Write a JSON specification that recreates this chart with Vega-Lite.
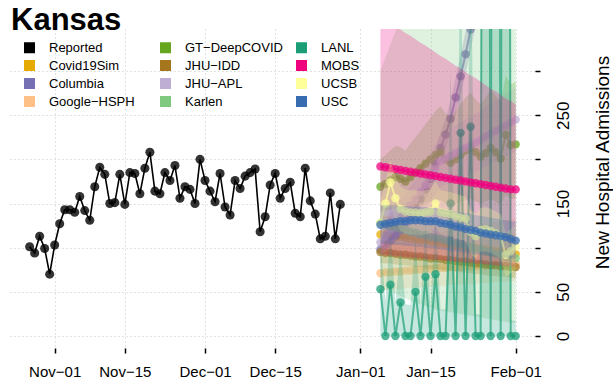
{
"$schema": "https://vega.github.io/schema/vega-lite/v6.json",
"autosize": "none",
"width": 525,
"height": 319,
"padding": {"left": 10, "top": 29, "right": 78, "bottom": 37},
"background": "white",
"config": {"view": {"stroke": null}, "font": "Liberation Sans"},
"title": {"text": "Kansas", "orient": "bottom", "anchor": "start", "frame": "group", "offset": -349, "baseline": "alphabetic", "dx": 1, "fontSize": 31, "fontWeight": "bold", "font": "Liberation Sans", "color": "black"},
"datasets": {
"rep": [
{"d":"2020-10-27","m":"Reported","v":101},{"d":"2020-10-28","m":"Reported","v":94},{"d":"2020-10-29","m":"Reported","v":113},{"d":"2020-10-30","m":"Reported","v":99},{"d":"2020-10-31","m":"Reported","v":70},
{"d":"2020-11-01","m":"Reported","v":103},{"d":"2020-11-02","m":"Reported","v":127},{"d":"2020-11-03","m":"Reported","v":143},{"d":"2020-11-04","m":"Reported","v":143},{"d":"2020-11-05","m":"Reported","v":140},
{"d":"2020-11-06","m":"Reported","v":158},{"d":"2020-11-07","m":"Reported","v":142},{"d":"2020-11-08","m":"Reported","v":131},{"d":"2020-11-09","m":"Reported","v":169},{"d":"2020-11-10","m":"Reported","v":191},
{"d":"2020-11-11","m":"Reported","v":183},{"d":"2020-11-12","m":"Reported","v":150},{"d":"2020-11-13","m":"Reported","v":151},{"d":"2020-11-14","m":"Reported","v":183},{"d":"2020-11-15","m":"Reported","v":149},
{"d":"2020-11-16","m":"Reported","v":185},{"d":"2020-11-17","m":"Reported","v":184},{"d":"2020-11-18","m":"Reported","v":161},{"d":"2020-11-19","m":"Reported","v":190},{"d":"2020-11-20","m":"Reported","v":208},
{"d":"2020-11-21","m":"Reported","v":164},{"d":"2020-11-22","m":"Reported","v":161},{"d":"2020-11-23","m":"Reported","v":185},{"d":"2020-11-24","m":"Reported","v":176},{"d":"2020-11-25","m":"Reported","v":193},
{"d":"2020-11-26","m":"Reported","v":156},{"d":"2020-11-27","m":"Reported","v":169},{"d":"2020-11-28","m":"Reported","v":166},{"d":"2020-11-29","m":"Reported","v":150},{"d":"2020-11-30","m":"Reported","v":200},
{"d":"2020-12-01","m":"Reported","v":176},{"d":"2020-12-02","m":"Reported","v":164},{"d":"2020-12-03","m":"Reported","v":152},{"d":"2020-12-04","m":"Reported","v":184},{"d":"2020-12-05","m":"Reported","v":146},
{"d":"2020-12-06","m":"Reported","v":137},{"d":"2020-12-07","m":"Reported","v":176},{"d":"2020-12-08","m":"Reported","v":167},{"d":"2020-12-09","m":"Reported","v":181},{"d":"2020-12-10","m":"Reported","v":185},
{"d":"2020-12-11","m":"Reported","v":189},{"d":"2020-12-12","m":"Reported","v":118},{"d":"2020-12-13","m":"Reported","v":135},{"d":"2020-12-14","m":"Reported","v":171},{"d":"2020-12-15","m":"Reported","v":184},
{"d":"2020-12-16","m":"Reported","v":156},{"d":"2020-12-17","m":"Reported","v":167},{"d":"2020-12-18","m":"Reported","v":174},{"d":"2020-12-19","m":"Reported","v":139},{"d":"2020-12-20","m":"Reported","v":135},
{"d":"2020-12-21","m":"Reported","v":190},{"d":"2020-12-22","m":"Reported","v":153},{"d":"2020-12-23","m":"Reported","v":138},{"d":"2020-12-24","m":"Reported","v":110},{"d":"2020-12-25","m":"Reported","v":113},
{"d":"2020-12-26","m":"Reported","v":162},{"d":"2020-12-27","m":"Reported","v":110},{"d":"2020-12-28","m":"Reported","v":149}
],
"fc": [
{"d":"2021-01-05","m":"Covid19Sim","v":115,"lo":97,"hi":137},{"d":"2021-01-06","m":"Covid19Sim","v":114,"lo":96,"hi":136},{"d":"2021-01-07","m":"Covid19Sim","v":113,"lo":95,"hi":135},{"d":"2021-01-08","m":"Covid19Sim","v":112,"lo":94,"hi":134},
{"d":"2021-01-09","m":"Covid19Sim","v":112,"lo":94,"hi":134},{"d":"2021-01-10","m":"Covid19Sim","v":111,"lo":93,"hi":133},{"d":"2021-01-11","m":"Covid19Sim","v":110,"lo":92,"hi":132},{"d":"2021-01-12","m":"Covid19Sim","v":109,"lo":91,"hi":131},
{"d":"2021-01-13","m":"Covid19Sim","v":108,"lo":90,"hi":130},{"d":"2021-01-14","m":"Covid19Sim","v":108,"lo":90,"hi":130},{"d":"2021-01-15","m":"Covid19Sim","v":107,"lo":89,"hi":129},{"d":"2021-01-16","m":"Covid19Sim","v":106,"lo":88,"hi":128},
{"d":"2021-01-17","m":"Covid19Sim","v":105,"lo":87,"hi":127},{"d":"2021-01-18","m":"Covid19Sim","v":104,"lo":86,"hi":126},{"d":"2021-01-19","m":"Covid19Sim","v":104,"lo":86,"hi":126},{"d":"2021-01-20","m":"Covid19Sim","v":103,"lo":85,"hi":125},
{"d":"2021-01-21","m":"Covid19Sim","v":102,"lo":84,"hi":124},{"d":"2021-01-22","m":"Covid19Sim","v":101,"lo":83,"hi":123},{"d":"2021-01-23","m":"Covid19Sim","v":100,"lo":82,"hi":122},{"d":"2021-01-24","m":"Covid19Sim","v":100,"lo":82,"hi":122},
{"d":"2021-01-25","m":"Covid19Sim","v":99,"lo":81,"hi":121},{"d":"2021-01-26","m":"Covid19Sim","v":98,"lo":80,"hi":120},{"d":"2021-01-27","m":"Covid19Sim","v":97,"lo":79,"hi":119},{"d":"2021-01-28","m":"Covid19Sim","v":96,"lo":78,"hi":118},
{"d":"2021-01-29","m":"Covid19Sim","v":96,"lo":78,"hi":118},{"d":"2021-01-30","m":"Covid19Sim","v":95,"lo":77,"hi":117},{"d":"2021-01-31","m":"Covid19Sim","v":94,"lo":76,"hi":116},{"d":"2021-02-01","m":"Covid19Sim","v":93,"lo":75,"hi":115},

{"d":"2021-01-05","m":"Columbia","v":98,"lo":91,"hi":106},{"d":"2021-01-06","m":"Columbia","v":103,"lo":96,"hi":111},{"d":"2021-01-07","m":"Columbia","v":108,"lo":100,"hi":117},{"d":"2021-01-08","m":"Columbia","v":114,"lo":106,"hi":123},
{"d":"2021-01-09","m":"Columbia","v":120,"lo":112,"hi":130},{"d":"2021-01-10","m":"Columbia","v":128,"lo":119,"hi":138},{"d":"2021-01-11","m":"Columbia","v":136,"lo":126,"hi":147},{"d":"2021-01-12","m":"Columbia","v":145,"lo":135,"hi":157},
{"d":"2021-01-13","m":"Columbia","v":155,"lo":144,"hi":167},{"d":"2021-01-14","m":"Columbia","v":166,"lo":154,"hi":179},{"d":"2021-01-15","m":"Columbia","v":178,"lo":166,"hi":192},{"d":"2021-01-16","m":"Columbia","v":195,"lo":181,"hi":211},
{"d":"2021-01-17","m":"Columbia","v":213,"lo":198,"hi":230},{"d":"2021-01-18","m":"Columbia","v":228,"lo":212,"hi":246},{"d":"2021-01-19","m":"Columbia","v":246,"lo":229,"hi":266},{"d":"2021-01-20","m":"Columbia","v":270,"lo":251,"hi":292},
{"d":"2021-01-21","m":"Columbia","v":294,"lo":273,"hi":318},{"d":"2021-01-22","m":"Columbia","v":319,"lo":297,"hi":345},{"d":"2021-01-23","m":"Columbia","v":347,"lo":323,"hi":375},{"d":"2021-01-24","m":"Columbia","v":378,"lo":352,"hi":408},
{"d":"2021-01-25","m":"Columbia","v":412,"lo":383,"hi":445},{"d":"2021-01-26","m":"Columbia","v":450,"lo":419,"hi":486},{"d":"2021-01-27","m":"Columbia","v":490,"lo":456,"hi":529},{"d":"2021-01-28","m":"Columbia","v":535,"lo":498,"hi":578},
{"d":"2021-01-29","m":"Columbia","v":585,"lo":544,"hi":632},{"d":"2021-01-30","m":"Columbia","v":640,"lo":595,"hi":691},{"d":"2021-01-31","m":"Columbia","v":700,"lo":651,"hi":756},{"d":"2021-02-01","m":"Columbia","v":765,"lo":711,"hi":826},

{"d":"2021-01-05","m":"Google-HSPH","v":71,"lo":51,"hi":106},{"d":"2021-01-06","m":"Google-HSPH","v":72,"lo":52,"hi":107},{"d":"2021-01-07","m":"Google-HSPH","v":72,"lo":52,"hi":108},{"d":"2021-01-08","m":"Google-HSPH","v":73,"lo":53,"hi":109},
{"d":"2021-01-09","m":"Google-HSPH","v":73,"lo":53,"hi":110},{"d":"2021-01-10","m":"Google-HSPH","v":74,"lo":54,"hi":111},{"d":"2021-01-11","m":"Google-HSPH","v":74,"lo":54,"hi":112},{"d":"2021-01-12","m":"Google-HSPH","v":75,"lo":55,"hi":113},
{"d":"2021-01-13","m":"Google-HSPH","v":75,"lo":55,"hi":114},{"d":"2021-01-14","m":"Google-HSPH","v":76,"lo":56,"hi":115},{"d":"2021-01-15","m":"Google-HSPH","v":76,"lo":56,"hi":116},{"d":"2021-01-16","m":"Google-HSPH","v":77,"lo":57,"hi":117},
{"d":"2021-01-17","m":"Google-HSPH","v":77,"lo":57,"hi":118},{"d":"2021-01-18","m":"Google-HSPH","v":77,"lo":57,"hi":119},{"d":"2021-01-19","m":"Google-HSPH","v":78,"lo":58,"hi":120},{"d":"2021-01-20","m":"Google-HSPH","v":78,"lo":58,"hi":121},
{"d":"2021-01-21","m":"Google-HSPH","v":78,"lo":58,"hi":122},{"d":"2021-01-22","m":"Google-HSPH","v":79,"lo":59,"hi":123},{"d":"2021-01-23","m":"Google-HSPH","v":79,"lo":59,"hi":124},{"d":"2021-01-24","m":"Google-HSPH","v":79,"lo":59,"hi":125},
{"d":"2021-01-25","m":"Google-HSPH","v":80,"lo":60,"hi":126},{"d":"2021-01-26","m":"Google-HSPH","v":80,"lo":60,"hi":127},{"d":"2021-01-27","m":"Google-HSPH","v":80,"lo":60,"hi":128},{"d":"2021-01-28","m":"Google-HSPH","v":81,"lo":61,"hi":129},
{"d":"2021-01-29","m":"Google-HSPH","v":81,"lo":61,"hi":130},{"d":"2021-01-30","m":"Google-HSPH","v":81,"lo":61,"hi":131},{"d":"2021-01-31","m":"Google-HSPH","v":82,"lo":62,"hi":132},{"d":"2021-02-01","m":"Google-HSPH","v":82,"lo":62,"hi":133},

{"d":"2021-01-05","m":"GT-DeepCOVID","v":169,"lo":140,"hi":200},{"d":"2021-01-06","m":"GT-DeepCOVID","v":172,"lo":142,"hi":205},{"d":"2021-01-07","m":"GT-DeepCOVID","v":176,"lo":143,"hi":210},{"d":"2021-01-08","m":"GT-DeepCOVID","v":180,"lo":145,"hi":215},
{"d":"2021-01-09","m":"GT-DeepCOVID","v":178,"lo":144,"hi":214},{"d":"2021-01-10","m":"GT-DeepCOVID","v":175,"lo":142,"hi":210},{"d":"2021-01-11","m":"GT-DeepCOVID","v":180,"lo":144,"hi":218},{"d":"2021-01-12","m":"GT-DeepCOVID","v":185,"lo":146,"hi":225},
{"d":"2021-01-13","m":"GT-DeepCOVID","v":190,"lo":148,"hi":232},{"d":"2021-01-14","m":"GT-DeepCOVID","v":195,"lo":150,"hi":240},{"d":"2021-01-15","m":"GT-DeepCOVID","v":200,"lo":152,"hi":247},{"d":"2021-01-16","m":"GT-DeepCOVID","v":205,"lo":153,"hi":255},
{"d":"2021-01-17","m":"GT-DeepCOVID","v":208,"lo":154,"hi":260},{"d":"2021-01-18","m":"GT-DeepCOVID","v":200,"lo":150,"hi":252},{"d":"2021-01-19","m":"GT-DeepCOVID","v":196,"lo":148,"hi":248},{"d":"2021-01-20","m":"GT-DeepCOVID","v":200,"lo":150,"hi":255},
{"d":"2021-01-21","m":"GT-DeepCOVID","v":205,"lo":152,"hi":262},{"d":"2021-01-22","m":"GT-DeepCOVID","v":210,"lo":154,"hi":270},{"d":"2021-01-23","m":"GT-DeepCOVID","v":213,"lo":155,"hi":275},{"d":"2021-01-24","m":"GT-DeepCOVID","v":208,"lo":152,"hi":268},
{"d":"2021-01-25","m":"GT-DeepCOVID","v":203,"lo":150,"hi":262},{"d":"2021-01-26","m":"GT-DeepCOVID","v":207,"lo":152,"hi":270},{"d":"2021-01-27","m":"GT-DeepCOVID","v":213,"lo":155,"hi":278},{"d":"2021-01-28","m":"GT-DeepCOVID","v":208,"lo":152,"hi":272},
{"d":"2021-01-29","m":"GT-DeepCOVID","v":201,"lo":149,"hi":265},{"d":"2021-01-30","m":"GT-DeepCOVID","v":228,"lo":160,"hi":295},{"d":"2021-01-31","m":"GT-DeepCOVID","v":216,"lo":155,"hi":285},{"d":"2021-02-01","m":"GT-DeepCOVID","v":217,"lo":155,"hi":288},

{"d":"2021-01-05","m":"JHU-IDD","v":95,"lo":83,"hi":109},{"d":"2021-01-06","m":"JHU-IDD","v":94,"lo":82,"hi":108},{"d":"2021-01-07","m":"JHU-IDD","v":94,"lo":82,"hi":108},{"d":"2021-01-08","m":"JHU-IDD","v":93,"lo":81,"hi":107},
{"d":"2021-01-09","m":"JHU-IDD","v":92,"lo":80,"hi":106},{"d":"2021-01-10","m":"JHU-IDD","v":92,"lo":80,"hi":106},{"d":"2021-01-11","m":"JHU-IDD","v":91,"lo":79,"hi":105},{"d":"2021-01-12","m":"JHU-IDD","v":90,"lo":78,"hi":104},
{"d":"2021-01-13","m":"JHU-IDD","v":90,"lo":78,"hi":104},{"d":"2021-01-14","m":"JHU-IDD","v":89,"lo":77,"hi":103},{"d":"2021-01-15","m":"JHU-IDD","v":88,"lo":76,"hi":102},{"d":"2021-01-16","m":"JHU-IDD","v":88,"lo":76,"hi":102},
{"d":"2021-01-17","m":"JHU-IDD","v":87,"lo":75,"hi":101},{"d":"2021-01-18","m":"JHU-IDD","v":86,"lo":74,"hi":100},{"d":"2021-01-19","m":"JHU-IDD","v":86,"lo":74,"hi":100},{"d":"2021-01-20","m":"JHU-IDD","v":85,"lo":73,"hi":99},
{"d":"2021-01-21","m":"JHU-IDD","v":84,"lo":72,"hi":98},{"d":"2021-01-22","m":"JHU-IDD","v":84,"lo":72,"hi":98},{"d":"2021-01-23","m":"JHU-IDD","v":83,"lo":71,"hi":97},{"d":"2021-01-24","m":"JHU-IDD","v":82,"lo":70,"hi":96},
{"d":"2021-01-25","m":"JHU-IDD","v":82,"lo":70,"hi":96},{"d":"2021-01-26","m":"JHU-IDD","v":81,"lo":69,"hi":95},{"d":"2021-01-27","m":"JHU-IDD","v":80,"lo":68,"hi":94},{"d":"2021-01-28","m":"JHU-IDD","v":80,"lo":68,"hi":94},
{"d":"2021-01-29","m":"JHU-IDD","v":79,"lo":67,"hi":93},{"d":"2021-01-30","m":"JHU-IDD","v":79,"lo":67,"hi":93},{"d":"2021-01-31","m":"JHU-IDD","v":78,"lo":66,"hi":92},{"d":"2021-02-01","m":"JHU-IDD","v":78,"lo":66,"hi":92},

{"d":"2021-01-05","m":"JHU-APL","v":106,"lo":90,"hi":122},{"d":"2021-01-06","m":"JHU-APL","v":113,"lo":96,"hi":130},{"d":"2021-01-07","m":"JHU-APL","v":120,"lo":102,"hi":138},{"d":"2021-01-08","m":"JHU-APL","v":127,"lo":108,"hi":146},
{"d":"2021-01-09","m":"JHU-APL","v":134,"lo":114,"hi":154},{"d":"2021-01-10","m":"JHU-APL","v":141,"lo":120,"hi":162},{"d":"2021-01-11","m":"JHU-APL","v":148,"lo":126,"hi":170},{"d":"2021-01-12","m":"JHU-APL","v":155,"lo":132,"hi":178},
{"d":"2021-01-13","m":"JHU-APL","v":163,"lo":139,"hi":187},{"d":"2021-01-14","m":"JHU-APL","v":171,"lo":145,"hi":197},{"d":"2021-01-15","m":"JHU-APL","v":180,"lo":153,"hi":207},{"d":"2021-01-16","m":"JHU-APL","v":189,"lo":161,"hi":217},
{"d":"2021-01-17","m":"JHU-APL","v":198,"lo":168,"hi":228},{"d":"2021-01-18","m":"JHU-APL","v":201,"lo":171,"hi":231},{"d":"2021-01-19","m":"JHU-APL","v":204,"lo":173,"hi":235},{"d":"2021-01-20","m":"JHU-APL","v":207,"lo":176,"hi":238},
{"d":"2021-01-21","m":"JHU-APL","v":210,"lo":179,"hi":242},{"d":"2021-01-22","m":"JHU-APL","v":213,"lo":181,"hi":245},{"d":"2021-01-23","m":"JHU-APL","v":216,"lo":184,"hi":248},{"d":"2021-01-24","m":"JHU-APL","v":219,"lo":186,"hi":252},
{"d":"2021-01-25","m":"JHU-APL","v":222,"lo":189,"hi":255},{"d":"2021-01-26","m":"JHU-APL","v":226,"lo":192,"hi":260},{"d":"2021-01-27","m":"JHU-APL","v":229,"lo":195,"hi":263},{"d":"2021-01-28","m":"JHU-APL","v":232,"lo":197,"hi":267},
{"d":"2021-01-29","m":"JHU-APL","v":235,"lo":200,"hi":270},{"d":"2021-01-30","m":"JHU-APL","v":238,"lo":202,"hi":274},{"d":"2021-01-31","m":"JHU-APL","v":242,"lo":206,"hi":278},{"d":"2021-02-01","m":"JHU-APL","v":245,"lo":208,"hi":282},

{"d":"2021-01-05","m":"Karlen","v":128,"lo":55,"hi":300},{"d":"2021-01-06","m":"Karlen","v":126,"lo":53,"hi":315},{"d":"2021-01-07","m":"Karlen","v":124,"lo":50,"hi":330},{"d":"2021-01-08","m":"Karlen","v":123,"lo":48,"hi":345},
{"d":"2021-01-09","m":"Karlen","v":121,"lo":45,"hi":360},{"d":"2021-01-10","m":"Karlen","v":120,"lo":43,"hi":375},{"d":"2021-01-11","m":"Karlen","v":118,"lo":40,"hi":390},{"d":"2021-01-12","m":"Karlen","v":117,"lo":38,"hi":405},
{"d":"2021-01-13","m":"Karlen","v":115,"lo":36,"hi":420},{"d":"2021-01-14","m":"Karlen","v":114,"lo":34,"hi":435},{"d":"2021-01-15","m":"Karlen","v":112,"lo":32,"hi":450},{"d":"2021-01-16","m":"Karlen","v":111,"lo":30,"hi":465},
{"d":"2021-01-17","m":"Karlen","v":110,"lo":29,"hi":480},{"d":"2021-01-18","m":"Karlen","v":108,"lo":28,"hi":495},{"d":"2021-01-19","m":"Karlen","v":107,"lo":27,"hi":510},{"d":"2021-01-20","m":"Karlen","v":105,"lo":26,"hi":525},
{"d":"2021-01-21","m":"Karlen","v":104,"lo":25,"hi":540},{"d":"2021-01-22","m":"Karlen","v":102,"lo":24,"hi":555},{"d":"2021-01-23","m":"Karlen","v":101,"lo":23,"hi":570},{"d":"2021-01-24","m":"Karlen","v":99,"lo":22,"hi":585},
{"d":"2021-01-25","m":"Karlen","v":98,"lo":21,"hi":600},{"d":"2021-01-26","m":"Karlen","v":96,"lo":20,"hi":615},{"d":"2021-01-27","m":"Karlen","v":95,"lo":19,"hi":630},{"d":"2021-01-28","m":"Karlen","v":93,"lo":18,"hi":645},
{"d":"2021-01-29","m":"Karlen","v":92,"lo":17,"hi":660},{"d":"2021-01-30","m":"Karlen","v":90,"lo":16,"hi":675},{"d":"2021-01-31","m":"Karlen","v":89,"lo":15,"hi":690},{"d":"2021-02-01","m":"Karlen","v":88,"lo":15,"hi":705},

{"d":"2021-01-05","m":"LANL","v":53,"lo":0,"hi":110},{"d":"2021-01-06","m":"LANL","v":0,"lo":0,"hi":40},{"d":"2021-01-07","m":"LANL","v":58,"lo":0,"hi":120},{"d":"2021-01-08","m":"LANL","v":0,"lo":0,"hi":38},
{"d":"2021-01-09","m":"LANL","v":38,"lo":0,"hi":100},{"d":"2021-01-10","m":"LANL","v":0,"lo":0,"hi":36},{"d":"2021-01-11","m":"LANL","v":0,"lo":0,"hi":35},{"d":"2021-01-12","m":"LANL","v":50,"lo":0,"hi":110},
{"d":"2021-01-13","m":"LANL","v":0,"lo":0,"hi":33},{"d":"2021-01-14","m":"LANL","v":67,"lo":0,"hi":130},{"d":"2021-01-15","m":"LANL","v":0,"lo":0,"hi":32},{"d":"2021-01-16","m":"LANL","v":70,"lo":0,"hi":140},
{"d":"2021-01-17","m":"LANL","v":0,"lo":0,"hi":30},{"d":"2021-01-18","m":"LANL","v":0,"lo":0,"hi":30},{"d":"2021-01-19","m":"LANL","v":150,"lo":0,"hi":300},{"d":"2021-01-20","m":"LANL","v":0,"lo":0,"hi":28},
{"d":"2021-01-21","m":"LANL","v":230,"lo":0,"hi":450},{"d":"2021-01-22","m":"LANL","v":0,"lo":0,"hi":26},{"d":"2021-01-23","m":"LANL","v":237,"lo":0,"hi":460},{"d":"2021-01-24","m":"LANL","v":0,"lo":0,"hi":25},
{"d":"2021-01-25","m":"LANL","v":0,"lo":0,"hi":24},{"d":"2021-01-26","m":"LANL","v":2500,"lo":0,"hi":4000},{"d":"2021-01-27","m":"LANL","v":0,"lo":0,"hi":22},{"d":"2021-01-28","m":"LANL","v":2800,"lo":0,"hi":4500},
{"d":"2021-01-29","m":"LANL","v":0,"lo":0,"hi":20},{"d":"2021-01-30","m":"LANL","v":3000,"lo":0,"hi":5000},{"d":"2021-01-31","m":"LANL","v":0,"lo":0,"hi":18},{"d":"2021-02-01","m":"LANL","v":0,"lo":0,"hi":17},

{"d":"2021-01-05","m":"MOBS","v":192,"lo":92,"hi":362},{"d":"2021-01-06","m":"MOBS","v":191,"lo":91,"hi":358},{"d":"2021-01-07","m":"MOBS","v":190,"lo":91,"hi":354},{"d":"2021-01-08","m":"MOBS","v":189,"lo":90,"hi":351},
{"d":"2021-01-09","m":"MOBS","v":188,"lo":90,"hi":347},{"d":"2021-01-10","m":"MOBS","v":187,"lo":89,"hi":343},{"d":"2021-01-11","m":"MOBS","v":186,"lo":89,"hi":340},{"d":"2021-01-12","m":"MOBS","v":185,"lo":88,"hi":336},
{"d":"2021-01-13","m":"MOBS","v":184,"lo":88,"hi":332},{"d":"2021-01-14","m":"MOBS","v":183,"lo":87,"hi":329},{"d":"2021-01-15","m":"MOBS","v":182,"lo":87,"hi":325},{"d":"2021-01-16","m":"MOBS","v":181,"lo":86,"hi":321},
{"d":"2021-01-17","m":"MOBS","v":180,"lo":86,"hi":317},{"d":"2021-01-18","m":"MOBS","v":179,"lo":85,"hi":314},{"d":"2021-01-19","m":"MOBS","v":178,"lo":85,"hi":310},{"d":"2021-01-20","m":"MOBS","v":177,"lo":84,"hi":306},
{"d":"2021-01-21","m":"MOBS","v":176,"lo":84,"hi":303},{"d":"2021-01-22","m":"MOBS","v":175,"lo":83,"hi":299},{"d":"2021-01-23","m":"MOBS","v":174,"lo":83,"hi":295},{"d":"2021-01-24","m":"MOBS","v":173,"lo":82,"hi":292},
{"d":"2021-01-25","m":"MOBS","v":172,"lo":82,"hi":288},{"d":"2021-01-26","m":"MOBS","v":171,"lo":81,"hi":284},{"d":"2021-01-27","m":"MOBS","v":170,"lo":81,"hi":280},{"d":"2021-01-28","m":"MOBS","v":169,"lo":80,"hi":277},
{"d":"2021-01-29","m":"MOBS","v":168,"lo":80,"hi":273},{"d":"2021-01-30","m":"MOBS","v":167,"lo":79,"hi":269},{"d":"2021-01-31","m":"MOBS","v":166,"lo":79,"hi":266},{"d":"2021-02-01","m":"MOBS","v":166,"lo":78,"hi":262},

{"d":"2021-01-05","m":"UCSB","v":128,"lo":103,"hi":153},{"d":"2021-01-06","m":"UCSB","v":150,"lo":125,"hi":175},{"d":"2021-01-07","m":"UCSB","v":174,"lo":149,"hi":199},{"d":"2021-01-08","m":"UCSB","v":156,"lo":131,"hi":181},
{"d":"2021-01-09","m":"UCSB","v":144,"lo":119,"hi":169},{"d":"2021-01-10","m":"UCSB","v":141,"lo":116,"hi":166},{"d":"2021-01-11","m":"UCSB","v":140,"lo":115,"hi":165},{"d":"2021-01-12","m":"UCSB","v":140,"lo":115,"hi":165},
{"d":"2021-01-13","m":"UCSB","v":139,"lo":114,"hi":164},{"d":"2021-01-14","m":"UCSB","v":140,"lo":115,"hi":165},{"d":"2021-01-15","m":"UCSB","v":141,"lo":116,"hi":166},{"d":"2021-01-16","m":"UCSB","v":150,"lo":125,"hi":175},
{"d":"2021-01-17","m":"UCSB","v":140,"lo":115,"hi":165},{"d":"2021-01-18","m":"UCSB","v":139,"lo":114,"hi":164},{"d":"2021-01-19","m":"UCSB","v":138,"lo":113,"hi":163},{"d":"2021-01-20","m":"UCSB","v":136,"lo":111,"hi":161},
{"d":"2021-01-21","m":"UCSB","v":134,"lo":109,"hi":159},{"d":"2021-01-22","m":"UCSB","v":133,"lo":108,"hi":158},{"d":"2021-01-23","m":"UCSB","v":118,"lo":93,"hi":143},{"d":"2021-01-24","m":"UCSB","v":113,"lo":88,"hi":138},
{"d":"2021-01-25","m":"UCSB","v":120,"lo":95,"hi":145},{"d":"2021-01-26","m":"UCSB","v":121,"lo":96,"hi":146},{"d":"2021-01-27","m":"UCSB","v":119,"lo":94,"hi":144},{"d":"2021-01-28","m":"UCSB","v":116,"lo":91,"hi":141},
{"d":"2021-01-29","m":"UCSB","v":113,"lo":88,"hi":138},{"d":"2021-01-30","m":"UCSB","v":92,"lo":67,"hi":117},{"d":"2021-01-31","m":"UCSB","v":96,"lo":71,"hi":121},{"d":"2021-02-01","m":"UCSB","v":101,"lo":76,"hi":126},

{"d":"2021-01-05","m":"USC","v":126,"lo":105,"hi":148},{"d":"2021-01-06","m":"USC","v":127,"lo":104,"hi":148},{"d":"2021-01-07","m":"USC","v":128,"lo":104,"hi":148},{"d":"2021-01-08","m":"USC","v":129,"lo":103,"hi":148},
{"d":"2021-01-09","m":"USC","v":130,"lo":103,"hi":147},{"d":"2021-01-10","m":"USC","v":130,"lo":102,"hi":147},{"d":"2021-01-11","m":"USC","v":131,"lo":102,"hi":147},{"d":"2021-01-12","m":"USC","v":131,"lo":101,"hi":146},
{"d":"2021-01-13","m":"USC","v":131,"lo":101,"hi":146},{"d":"2021-01-14","m":"USC","v":130,"lo":100,"hi":146},{"d":"2021-01-15","m":"USC","v":130,"lo":99,"hi":145},{"d":"2021-01-16","m":"USC","v":130,"lo":99,"hi":145},
{"d":"2021-01-17","m":"USC","v":128,"lo":98,"hi":144},{"d":"2021-01-18","m":"USC","v":127,"lo":97,"hi":143},{"d":"2021-01-19","m":"USC","v":126,"lo":96,"hi":142},{"d":"2021-01-20","m":"USC","v":124,"lo":96,"hi":141},
{"d":"2021-01-21","m":"USC","v":123,"lo":95,"hi":140},{"d":"2021-01-22","m":"USC","v":121,"lo":94,"hi":139},{"d":"2021-01-23","m":"USC","v":120,"lo":93,"hi":138},{"d":"2021-01-24","m":"USC","v":119,"lo":92,"hi":137},
{"d":"2021-01-25","m":"USC","v":117,"lo":92,"hi":136},{"d":"2021-01-26","m":"USC","v":116,"lo":91,"hi":135},{"d":"2021-01-27","m":"USC","v":115,"lo":90,"hi":134},{"d":"2021-01-28","m":"USC","v":114,"lo":90,"hi":133},
{"d":"2021-01-29","m":"USC","v":113,"lo":89,"hi":132},{"d":"2021-01-30","m":"USC","v":112,"lo":89,"hi":131},{"d":"2021-01-31","m":"USC","v":110,"lo":88,"hi":130},{"d":"2021-02-01","m":"USC","v":108,"lo":88,"hi":130}
]
},
"data": {"name": "fc"},
"encoding": {
"x": {"field": "d", "type": "temporal",
 "scale": {"type": "utc", "nice": false, "domain": [{"year": 2020, "month": 10, "date": 23, "hours": 2, "utc": true}, {"year": 2021, "month": 2, "date": 4, "hours": 20, "minutes": 24, "utc": true}]},
 "axis": {"title": null, "values": [{"year": 2020, "month": 11, "date": 1, "utc": true}, {"year": 2020, "month": 11, "date": 15, "utc": true}, {"year": 2020, "month": 12, "date": 1, "utc": true}, {"year": 2020, "month": 12, "date": 15, "utc": true}, {"year": 2021, "month": 1, "date": 1, "utc": true}, {"year": 2021, "month": 1, "date": 15, "utc": true}, {"year": 2021, "month": 2, "date": 1, "utc": true}],
  "format": "%b−%d", "domain": false, "ticks": true, "tickColor": "black", "tickWidth": 1.5, "tickSize": 5, "labelFontSize": 15, "labelFont": "Liberation Sans", "labelColor": "black", "labelPadding": 11, "labelFlush": false, "labelOverlap": false,
  "grid": true, "gridColor": "#c4c4c4", "gridDash": [1, 3], "gridWidth": 1}},
"color": {"field": "m", "type": "nominal",
 "scale": {"domain": ["Reported", "Covid19Sim", "Columbia", "Google-HSPH", "GT-DeepCOVID", "JHU-IDD", "JHU-APL", "Karlen", "LANL", "MOBS", "UCSB", "USC"],
  "range": ["#000000", "#E6AB02", "#7570B3", "#FDC086", "#66A61E", "#A6761D", "#BEAED4", "#7FC97F", "#1B9E77", "#F0027F", "#FFFF99", "#386CB0"]},
 "legend": {"orient": "none", "legendX": 13, "legendY": 12, "columns": 3, "gridAlign": "all", "columnPadding": 12, "rowPadding": 4, "padding": 0, "title": null,
  "symbolType": "square", "symbolSize": 121, "symbolOpacity": 1, "symbolStrokeWidth": 0,
  "labelFontSize": 13, "labelFont": "Liberation Sans", "labelColor": "black", "labelOffset": 13,
  "labelExpr": "replace(datum.label, '-', '−')",
  "encode": {"symbols": {"update": {"opacity": {"value": 1}, "fillOpacity": {"value": 1}, "strokeWidth": {"value": 0}}}}}}
},
"layer": [
{"transform": [{"filter": "datum.m == 'Covid19Sim'"}], "layer": [
 {"mark": {"type": "area", "opacity": 0.25, "clip": true}, "encoding": {
  "y": {"field": "lo", "type": "quantitative", "stack": null,
   "scale": {"domain": [-13.6, 347.6], "nice": false, "zero": false},
   "axis": {"orient": "right", "values": [0, 50, 100, 150, 200, 250, 300],
    "labelExpr": "datum.value == 100 || datum.value == 200 || datum.value == 300 ? '' : datum.label",
    "labelAngle": 270, "labelAlign": "center", "labelBaseline": "middle", "labelFontSize": 17, "labelFont": "Liberation Sans", "labelColor": "black", "labelPadding": 23, "labelOverlap": false, "labelFlush": false,
    "domain": false, "ticks": true, "tickColor": "black", "tickWidth": 1.5, "tickSize": 5,
    "grid": true, "gridColor": "#c4c4c4", "gridDash": [1, 3], "gridWidth": 1,
    "title": "New Hospital Admissions", "titleFontSize": 19, "titleFont": "Liberation Sans", "titleFontWeight": "normal", "titleColor": "black", "titleAngle": 270, "titleAlign": "center", "titleBaseline": "middle", "titleX": 67, "titleY": 133}},
  "y2": {"field": "hi"}}},
 {"mark": {"type": "line", "opacity": 0.7, "strokeWidth": 2, "clip": true}, "encoding": {"y": {"field": "v", "type": "quantitative"}}},
 {"mark": {"type": "point", "filled": true, "opacity": 0.75, "size": 70, "clip": true}, "encoding": {"y": {"field": "v", "type": "quantitative"}}}
]},
{"transform": [{"filter": "datum.m == 'Columbia'"}], "layer": [
 {"mark": {"type": "area", "opacity": 0.25, "clip": true}, "encoding": {"y": {"field": "lo", "type": "quantitative", "stack": null}, "y2": {"field": "hi"}}},
 {"mark": {"type": "line", "opacity": 0.7, "strokeWidth": 2, "clip": true}, "encoding": {"y": {"field": "v", "type": "quantitative"}}},
 {"mark": {"type": "point", "filled": true, "opacity": 0.75, "size": 70, "clip": true}, "encoding": {"y": {"field": "v", "type": "quantitative"}}}
]},
{"transform": [{"filter": "datum.m == 'Google-HSPH'"}], "layer": [
 {"mark": {"type": "area", "opacity": 0.25, "clip": true}, "encoding": {"y": {"field": "lo", "type": "quantitative", "stack": null}, "y2": {"field": "hi"}}},
 {"mark": {"type": "line", "opacity": 0.7, "strokeWidth": 2, "clip": true}, "encoding": {"y": {"field": "v", "type": "quantitative"}}},
 {"mark": {"type": "point", "filled": true, "opacity": 0.75, "size": 70, "clip": true}, "encoding": {"y": {"field": "v", "type": "quantitative"}}}
]},
{"transform": [{"filter": "datum.m == 'GT-DeepCOVID'"}], "layer": [
 {"mark": {"type": "area", "opacity": 0.25, "clip": true}, "encoding": {"y": {"field": "lo", "type": "quantitative", "stack": null}, "y2": {"field": "hi"}}},
 {"mark": {"type": "line", "opacity": 0.7, "strokeWidth": 2, "clip": true}, "encoding": {"y": {"field": "v", "type": "quantitative"}}},
 {"mark": {"type": "point", "filled": true, "opacity": 0.75, "size": 70, "clip": true}, "encoding": {"y": {"field": "v", "type": "quantitative"}}}
]},
{"transform": [{"filter": "datum.m == 'JHU-IDD'"}], "layer": [
 {"mark": {"type": "area", "opacity": 0.25, "clip": true}, "encoding": {"y": {"field": "lo", "type": "quantitative", "stack": null}, "y2": {"field": "hi"}}},
 {"mark": {"type": "line", "opacity": 0.7, "strokeWidth": 2, "clip": true}, "encoding": {"y": {"field": "v", "type": "quantitative"}}},
 {"mark": {"type": "point", "filled": true, "opacity": 0.75, "size": 70, "clip": true}, "encoding": {"y": {"field": "v", "type": "quantitative"}}}
]},
{"transform": [{"filter": "datum.m == 'JHU-APL'"}], "layer": [
 {"mark": {"type": "area", "opacity": 0.25, "clip": true}, "encoding": {"y": {"field": "lo", "type": "quantitative", "stack": null}, "y2": {"field": "hi"}}},
 {"mark": {"type": "line", "opacity": 0.7, "strokeWidth": 2, "clip": true}, "encoding": {"y": {"field": "v", "type": "quantitative"}}},
 {"mark": {"type": "point", "filled": true, "opacity": 0.75, "size": 70, "clip": true}, "encoding": {"y": {"field": "v", "type": "quantitative"}}}
]},
{"transform": [{"filter": "datum.m == 'Karlen'"}], "layer": [
 {"mark": {"type": "area", "opacity": 0.25, "clip": true}, "encoding": {"y": {"field": "lo", "type": "quantitative", "stack": null}, "y2": {"field": "hi"}}},
 {"mark": {"type": "line", "opacity": 0.7, "strokeWidth": 2, "clip": true}, "encoding": {"y": {"field": "v", "type": "quantitative"}}},
 {"mark": {"type": "point", "filled": true, "opacity": 0.75, "size": 70, "clip": true}, "encoding": {"y": {"field": "v", "type": "quantitative"}}}
]},
{"transform": [{"filter": "datum.m == 'LANL'"}], "layer": [
 {"mark": {"type": "area", "opacity": 0.25, "clip": true}, "encoding": {"y": {"field": "lo", "type": "quantitative", "stack": null}, "y2": {"field": "hi"}}},
 {"mark": {"type": "line", "opacity": 0.7, "strokeWidth": 2, "clip": true}, "encoding": {"y": {"field": "v", "type": "quantitative"}}},
 {"mark": {"type": "point", "filled": true, "opacity": 0.75, "size": 70, "clip": true}, "encoding": {"y": {"field": "v", "type": "quantitative"}}}
]},
{"transform": [{"filter": "datum.m == 'MOBS'"}], "layer": [
 {"mark": {"type": "area", "opacity": 0.25, "clip": true}, "encoding": {"y": {"field": "lo", "type": "quantitative", "stack": null}, "y2": {"field": "hi"}}},
 {"mark": {"type": "line", "opacity": 0.7, "strokeWidth": 2, "clip": true}, "encoding": {"y": {"field": "v", "type": "quantitative"}}},
 {"mark": {"type": "point", "filled": true, "opacity": 0.75, "size": 70, "clip": true}, "encoding": {"y": {"field": "v", "type": "quantitative"}}}
]},
{"transform": [{"filter": "datum.m == 'UCSB'"}], "layer": [
 {"mark": {"type": "area", "opacity": 0.25, "clip": true}, "encoding": {"y": {"field": "lo", "type": "quantitative", "stack": null}, "y2": {"field": "hi"}}},
 {"mark": {"type": "line", "opacity": 0.7, "strokeWidth": 2, "clip": true}, "encoding": {"y": {"field": "v", "type": "quantitative"}}},
 {"mark": {"type": "point", "filled": true, "opacity": 0.75, "size": 70, "clip": true}, "encoding": {"y": {"field": "v", "type": "quantitative"}}}
]},
{"transform": [{"filter": "datum.m == 'USC'"}], "layer": [
 {"mark": {"type": "area", "opacity": 0.25, "clip": true}, "encoding": {"y": {"field": "lo", "type": "quantitative", "stack": null}, "y2": {"field": "hi"}}},
 {"mark": {"type": "line", "opacity": 0.7, "strokeWidth": 2, "clip": true}, "encoding": {"y": {"field": "v", "type": "quantitative"}}},
 {"mark": {"type": "point", "filled": true, "opacity": 0.75, "size": 70, "clip": true}, "encoding": {"y": {"field": "v", "type": "quantitative"}}}
]},
{"data": {"name": "rep"}, "layer": [
 {"mark": {"type": "line", "strokeWidth": 1.6}, "encoding": {"y": {"field": "v", "type": "quantitative"}}},
 {"mark": {"type": "point", "filled": true, "opacity": 0.8, "size": 82}, "encoding": {"y": {"field": "v", "type": "quantitative"}}}
]},
{"data": {"values": [{}]},
 "mark": {"type": "rule", "strokeWidth": 2},
 "encoding": {
  "x": {"datum": {"year": 2020, "month": 11, "date": 1, "utc": true}, "type": "temporal"},
  "x2": {"datum": {"year": 2021, "month": 2, "date": 1, "utc": true}},
  "y": {"datum": -13.6, "type": "quantitative"},
  "color": {"value": "black"}}},
{"data": {"values": [{}]},
 "mark": {"type": "rule", "strokeWidth": 2},
 "encoding": {
  "x": {"datum": {"year": 2021, "month": 2, "date": 4, "hours": 20, "minutes": 24, "utc": true}, "type": "temporal"},
  "y": {"datum": 0, "type": "quantitative"},
  "y2": {"datum": 347.6},
  "color": {"value": "black"}}}
]
}
